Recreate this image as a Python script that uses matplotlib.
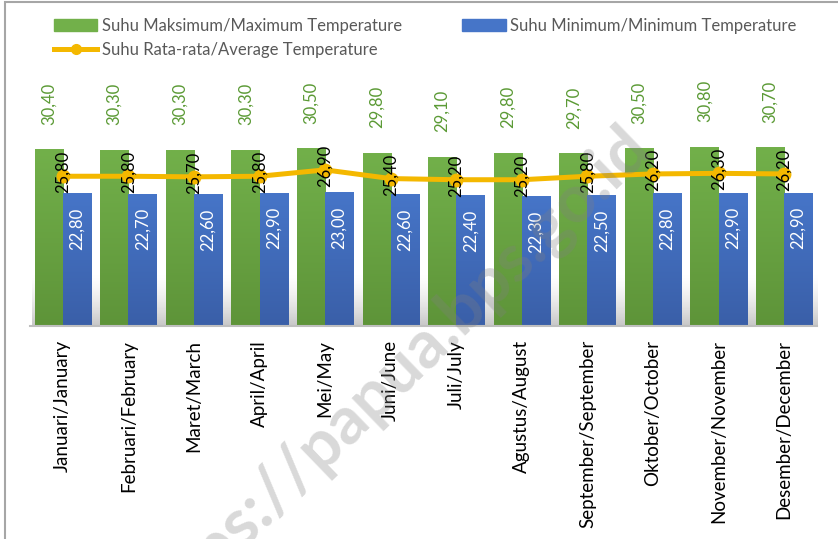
import numpy as np
import matplotlib
matplotlib.use("Agg")
import matplotlib.pyplot as plt
from matplotlib.colors import LinearSegmentedColormap
from matplotlib.lines import Line2D
from matplotlib.patches import Patch, Rectangle

plt.rcParams["font.family"] = ["Lato", "DejaVu Sans"]

months = ["Januari/January", "Februari/February", "Maret/March", "April/April",
          "Mei/May", "Juni/June", "Juli/July", "Agustus/August",
          "September/September", "Oktober/October", "November/November",
          "Desember/December"]
suhu_max = [30.4, 30.3, 30.3, 30.3, 30.5, 29.8, 29.1, 29.8, 29.7, 30.5, 30.8, 30.7]
suhu_min = [22.8, 22.7, 22.6, 22.9, 23.0, 22.6, 22.4, 22.3, 22.5, 22.8, 22.9, 22.9]
suhu_avg = [25.8, 25.8, 25.7, 25.8, 26.9, 25.4, 25.2, 25.2, 25.8, 26.2, 26.3, 26.2]

green_top, green_bot = "#72b04a", "#5e9439"
blue_top, blue_bot = "#4675c8", "#3a5fa8"
gold = "#f4b800"


def fmt(v):
    return f"{v:.2f}".replace(".", ",")


fig = plt.figure(figsize=(8.38, 5.39), dpi=100)
ax = fig.add_axes([30 / 838, 213 / 539, 787 / 838, 267 / 539])

x = np.arange(len(months))
w = 0.43

# soft grey shadow at the foot of the bars
shade = np.linspace(1, 0, 100).reshape(-1, 1) ** 1.5
shadow_cmap = LinearSegmentedColormap.from_list(
    "s", [(0.6, 0.6, 0.6, 0.0), (0.6, 0.6, 0.6, 0.55)])
ax.imshow(shade, extent=[-0.47, len(months) - 0.43, 0, 9], origin="lower",
          aspect="auto", cmap=shadow_cmap, zorder=1)

b1 = ax.bar(x - w / 2, suhu_max, w, color=green_top, zorder=2)
b2 = ax.bar(x + w / 2, suhu_min, w, color=blue_top, zorder=2)

# vertical gradient on the bars
grad = np.linspace(0, 1, 100).reshape(-1, 1)
for bars, top, bot in [(b1, green_top, green_bot), (b2, blue_top, blue_bot)]:
    cmap = LinearSegmentedColormap.from_list("g", [bot, top])
    for r in bars:
        x0, h, bw = r.get_x(), r.get_height(), r.get_width()
        ax.imshow(grad, extent=[x0, x0 + bw, 0, h], origin="lower",
                  aspect="auto", cmap=cmap, zorder=2.1)

ax.plot(x, suhu_avg, color=gold, lw=3.6, marker="o", ms=9,
        markerfacecolor=gold, markeredgecolor=gold, zorder=3)

for i in x:
    ax.annotate(fmt(suhu_max[i]), (i - w / 2, suhu_max[i]), xytext=(0, 18),
                textcoords="offset points", rotation=90, ha="center", va="bottom",
                color="#5b9a35", fontsize=12)
    ax.annotate(fmt(suhu_min[i]), (i + w / 2, suhu_min[i]), xytext=(0, -10),
                textcoords="offset points", rotation=90, ha="center", va="top",
                color="white", fontsize=12, zorder=4)
    ax.annotate(fmt(suhu_avg[i]), (i, suhu_avg[i]), xytext=(0, 3),
                textcoords="offset points", rotation=90, ha="center", va="center",
                color="black", fontsize=12, zorder=4)

ax.set_xlim(-0.5, len(months) - 0.5)
ax.set_ylim(0, 46)
ax.set_yticks([])
ax.set_xticks(x)
ax.set_xticklabels(months, rotation=90, fontsize=13.5)
ax.tick_params(axis="x", length=0, pad=10)
for s in ["top", "right", "left"]:
    ax.spines[s].set_visible(False)
ax.spines["bottom"].set_color("#bfbfbf")
ax.spines["bottom"].set_linewidth(1.5)

handles = [Patch(color=green_top), Line2D([], [], color=gold, lw=3.6, marker="o", ms=7),
           Patch(color=blue_top)]
labels = ["Suhu Maksimum/Maximum Temperature", "Suhu Rata-rata/Average Temperature",
          "Suhu Minimum/Minimum Temperature"]
fig.legend(handles, labels, ncol=2, loc="upper left", bbox_to_anchor=(54 / 838, 1 - 18 / 539),
           frameon=False, fontsize=12, labelcolor="#595959", handlelength=2.6,
           handletextpad=0.25, columnspacing=3.65, labelspacing=0.5, borderpad=0,
           borderaxespad=0)

# watermark
fig.text(0.466, 0.298, "https://papua.bps.go.id", rotation=44, fontsize=48,
         fontweight="bold", color="#808080", alpha=0.3, ha="center", va="center",
         zorder=10)

# outer frame (image cropped on the right and bottom)
fig.patches.append(Rectangle((5 / 838, -0.1), 1.2, 1 - 2 / 539 + 0.1, fill=False,
                             edgecolor="#a6a6a6", lw=1.5, transform=fig.transFigure))

fig.savefig("out.png", dpi=100)
